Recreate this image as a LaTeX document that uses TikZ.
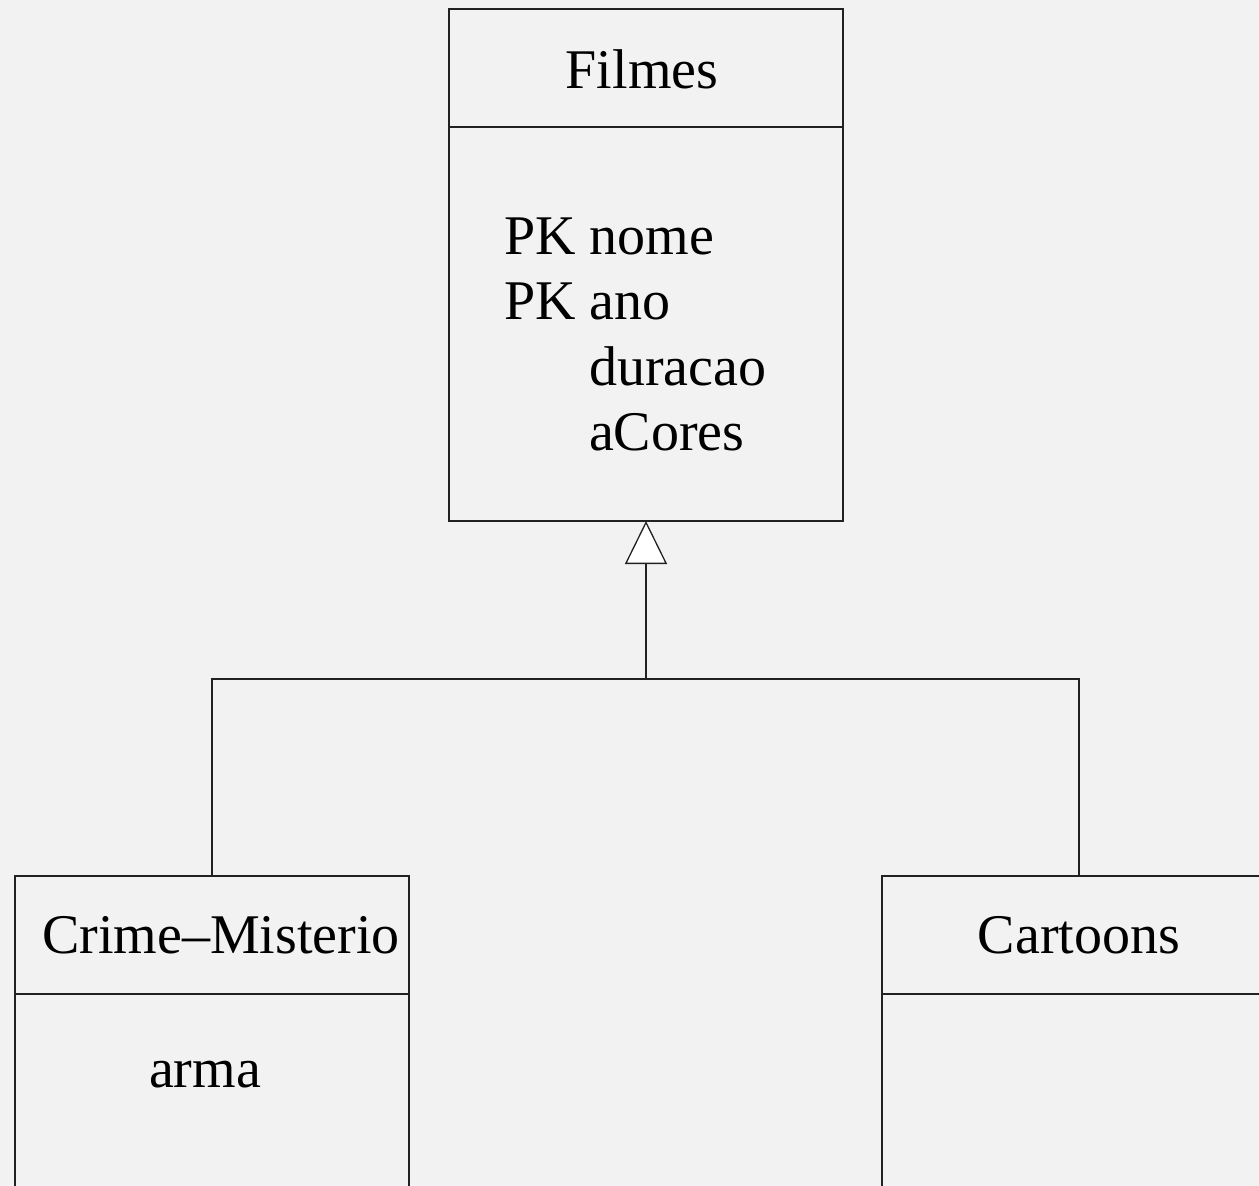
\documentclass[tikz,border=0pt]{standalone}
\usepackage{fontspec}
\setmainfont{Liberation Serif}
\usetikzlibrary{arrows.meta}
\definecolor{bgcol}{HTML}{F2F2F2}
\definecolor{linecol}{HTML}{222222}
\begin{document}
\begin{tikzpicture}[x=1pt,y=1pt,
  box/.style={draw=linecol,line width=1.3pt,fill=none,inner sep=0pt,outer sep=0pt,minimum width=394pt},
  lbl/.style={inner sep=0pt,outer sep=0pt,font=\fontsize{56}{66}\selectfont,text=black},
  conn/.style={draw=linecol,line width=1.3pt}]
\useasboundingbox (0,0) rectangle (1259,-1186);
\fill[bgcol] (0,0) rectangle (1259,-1186);
\clip (0,0) rectangle (1259,-1186);
% boxes
\node[box,minimum height=512pt] (filmes) at (646,-265) {};
\node[box,minimum height=424pt] (crime) at (212,-1088) {};
\node[box,minimum height=424pt] (cartoons) at (1079,-1088) {};
\coordinate (fdl) at (449,-127);
\coordinate (fdr) at (843,-127);
\coordinate (cdl) at (15,-994);
\coordinate (cdr) at (409,-994);
\coordinate (tdl) at (882,-994);
\coordinate (tdr) at (1276,-994);
\draw[conn] (fdl) -- (fdr);
\draw[conn] (cdl) -- (cdr);
\draw[conn] (tdl) -- (tdr);
% texts
\node[lbl,anchor=base] (tfilmes) at (642,-88) {Filmes};
\node[lbl,anchor=base west] (a1) at (504,-254) {PK nome};
\node[lbl,anchor=base west] (a2) at (504,-319) {PK ano};
\node[lbl,anchor=base west] (a3) at (589,-385) {duracao};
\node[lbl,anchor=base west] (a4) at (589,-450) {aCores};
\node[lbl,anchor=base] (tcrime) at (221,-953) {Crime--Misterio};
\node[lbl,anchor=base] (tarma) at (205,-1087) {arma};
\node[lbl,anchor=base] (tcart) at (1079,-953) {Cartoons};
% inheritance
\coordinate (jn) at (646,-679);
\draw[conn,-{Triangle[width=42pt,length=43pt,fill=white,line width=1.3pt]}] (jn) -- (filmes.south);
\draw[conn] (crime.north) |- (jn) -| (cartoons.north);
\end{tikzpicture}
\end{document}
